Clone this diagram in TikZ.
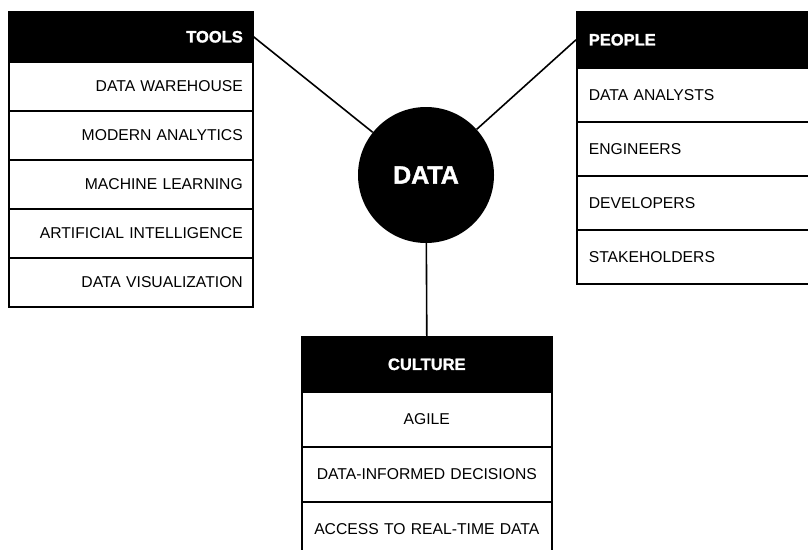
\documentclass[tikz,border=0pt]{standalone}
\usepackage{fontspec}
\setmainfont{Liberation Sans}
\newfontfamily\heavyfont[FakeBold=1.5]{Liberation Sans Bold}
\begin{document}
\begin{tikzpicture}[x=1pt,y=-1pt,
  box/.style={draw=black, line width=1.6pt, inner ysep=0pt, anchor=north west, font=\fontsize{15.7}{19}\selectfont},
  hdr/.style={box, fill=black, text=white, font=\heavyfont\fontsize{16.5}{19}\selectfont},
  rowbox/.style={box, fill=white, text=black},
  tl/.style={text width=224pt, inner xsep=10pt, align=right, minimum height=#1},
  pl/.style={text width=212pt, inner xsep=12pt, align=left, minimum height=#1},
  cl/.style={text width=244pt, inner xsep=3pt, align=center, minimum height=#1},
  conn/.style={line width=1.6pt, draw=black}]
\useasboundingbox (0,0) rectangle (808,549);
% TOOLS
\node[hdr, tl=50pt] (toolsH) at (8,11) {TOOLS};
\node[rowbox, tl=49pt] (t1) at (8,61) {DATA WAREHOUSE};
\node[rowbox, tl=49pt] (t2) at (8,110) {MODERN ANALYTICS};
\node[rowbox, tl=49pt] (t3) at (8,159) {MACHINE LEARNING};
\node[rowbox, tl=49pt] (t4) at (8,208) {ARTIFICIAL INTELLIGENCE};
\node[rowbox, tl=49pt] (t5) at (8,257) {DATA VISUALIZATION};
% PEOPLE
\node[hdr, pl=56pt] (peopleH) at (576,11) {PEOPLE};
\node[rowbox, pl=54pt] (p1) at (576,67) {DATA ANALYSTS};
\node[rowbox, pl=54pt] (p2) at (576,121) {ENGINEERS};
\node[rowbox, pl=54pt] (p3) at (576,175) {DEVELOPERS};
\node[rowbox, pl=54pt] (p4) at (576,229) {STAKEHOLDERS};
% CULTURE
\node[hdr, cl=55pt] (cultureH) at (301,336) {CULTURE};
\node[rowbox, cl=55pt] (c1) at (301,391) {AGILE};
\node[rowbox, cl=55pt] (c2) at (301,446) {DATA-INFORMED DECISIONS};
\node[rowbox, cl=55pt] (c3) at (301,501) {ACCESS TO REAL-TIME DATA};
% DATA
\node[circle, fill=black, text=white, minimum size=136pt, inner sep=0pt,
  font=\heavyfont\fontsize{25}{28}\selectfont] (data) at (426,175) {DATA};
% connectors
\draw[conn] (toolsH.east) -- (data);
\draw[conn] (peopleH.west) -- (data);
\draw[conn] (data) -- (cultureH.north);
\end{tikzpicture}
\end{document}
